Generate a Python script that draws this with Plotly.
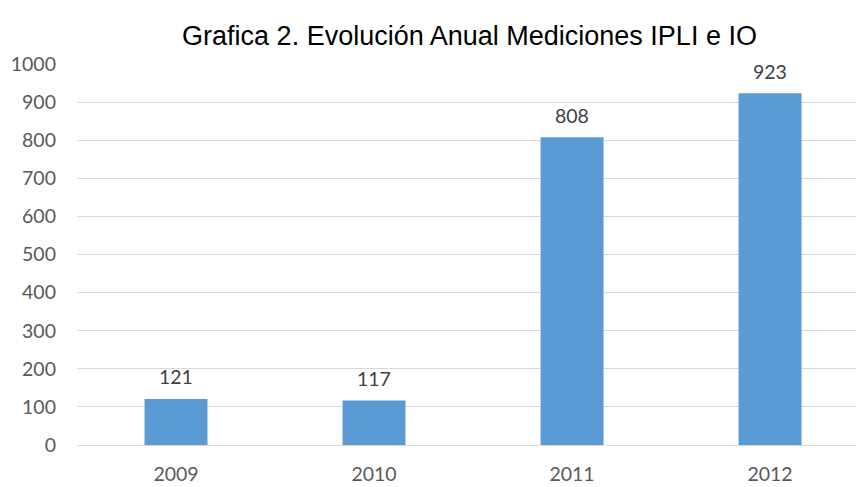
import plotly.graph_objects as go

years = ["2009", "2010", "2011", "2012"]
values = [121, 117, 808, 923]
y_ticks = [0, 100, 200, 300, 400, 500, 600, 700, 800, 900, 1000]
title_text = "Grafica 2. Evolución Anual Mediciones IPLI e IO"

fig = go.Figure()
fig.add_trace(go.Bar(
    x=years, y=values,
    marker=dict(color="#5B9BD5", line=dict(width=0)),
    hoverinfo="skip",
))

for i, v in enumerate(values):
    fig.add_annotation(
        x=i, y=v, text=str(v), showarrow=False,
        yanchor="middle", yshift=22,
        font=dict(family="Lato", size=19.5, color="#404040"),
    )

fig.update_layout(
    width=856, height=487,
    margin=dict(l=77, r=0, t=64, b=42),
    paper_bgcolor="white", plot_bgcolor="white",
    bargap=0.682,
    showlegend=False,
    title=dict(
        text=title_text, x=469.5 / 856, xanchor="center", xref="container",
        y=1 - 36 / 487, yanchor="middle", yref="container",
        font=dict(family="Liberation Sans, Arial", size=27, color="#000000"),
    ),
)

fig.update_xaxes(
    type="category", range=[-0.5, 3.434],
    showgrid=False, showline=False, zeroline=False,
    ticks="", ticklabelstandoff=15,
    tickfont=dict(family="Lato", size=19.5, color="#595959"),
)
fig.update_yaxes(
    range=[0, 1000], tickvals=y_ticks,
    showgrid=True, gridcolor="#D9D9D9", gridwidth=1.3,
    zeroline=True, zerolinecolor="#D9D9D9", zerolinewidth=1.3,
    showline=False, ticks="", ticklabelstandoff=20,
    tickfont=dict(family="Lato", size=19.5, color="#595959"),
)

fig.write_html(
    "out.html",
    config={"displayModeBar": False},
    post_script="document.body.style.margin='0';document.body.style.overflow='hidden';",
)
